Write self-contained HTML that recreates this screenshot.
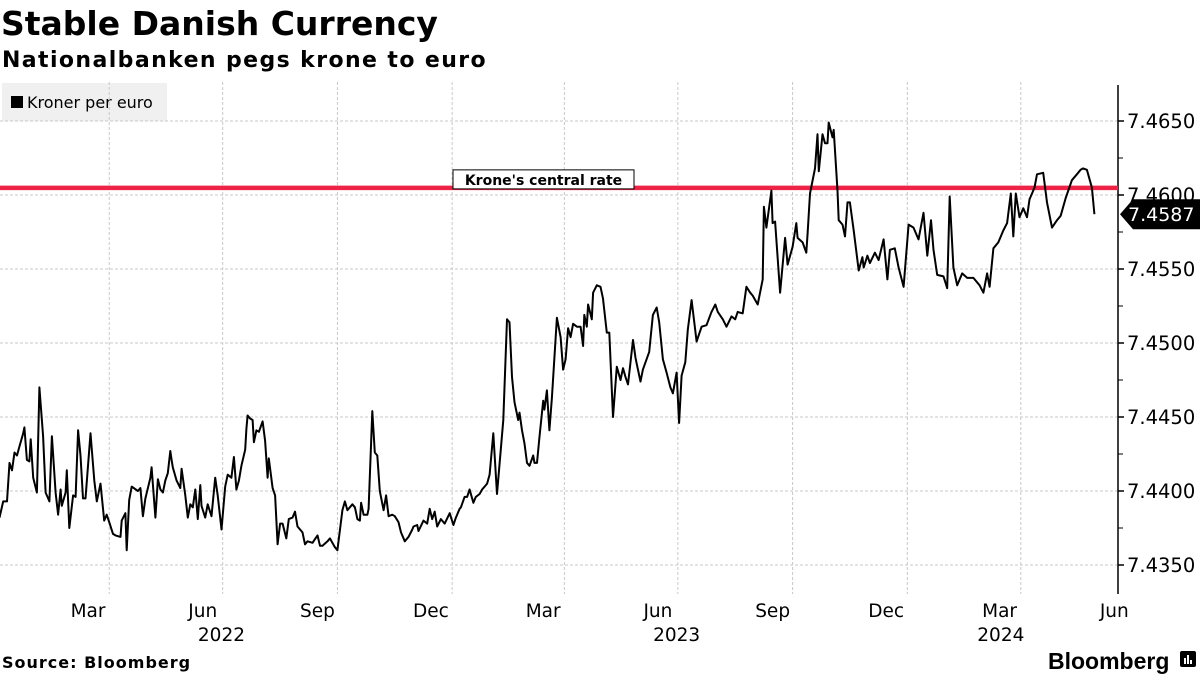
<!DOCTYPE html>
<html><head><meta charset="utf-8"><style>
body{margin:0;background:#fff;width:1200px;height:675px;overflow:hidden;font-family:"DejaVu Sans","Liberation Sans",sans-serif}
svg{display:block}
</style></head><body>
<svg id="chart" width="1200" height="675" viewBox="0 0 1200 675">
<text x="1" y="35" font-size="33" font-weight="bold" fill="#000">Stable Danish Currency</text>
<text x="2" y="67" font-size="22" font-weight="bold" letter-spacing="1.4" fill="#000">Nationalbanken pegs krone to euro</text>
<g>
<rect x="2" y="83" width="165" height="38" fill="#f0f0f0"/>
<rect x="11" y="96" width="12" height="12" fill="#000"/>
<text x="27" y="108" font-size="16" fill="#000">Kroner per euro</text>
</g>
<g id="grid"></g>
<g id="axes"></g>
<g id="series"></g>
<text x="2" y="668" font-size="16" font-weight="bold" letter-spacing="1" fill="#000">Source: Bloomberg</text>
<text x="1048" y="669" font-size="23" font-weight="bold" fill="#000" font-family="Liberation Sans, sans-serif">Bloomberg</text>
<g><rect x="1180" y="651" width="16" height="16" rx="2" fill="#000"/><rect x="1184" y="658" width="2" height="6" fill="#fff"/><rect x="1187" y="655" width="2" height="9" fill="#fff"/><rect x="1190" y="660" width="2" height="4" fill="#fff"/></g>
</svg>
<script>
const days=[2,5,8,10,12,14,16,18,21,22,24,26,27,29,32,34,37,39,42,44,47,49,51,52,55,56,58,61,63,65,67,69,71,75,78,80,83,86,88,90,93,95,99,100,103,104,106,108,113,115,117,119,123,124,127,129,131,133,135,137,139,140,141,144,147,148,151,153,155,157,159,161,163,164,167,169,172,175,177,180,183,185,188,190,192,194,196,199,200,201,203,205,206,208,210,213,215,217,218,221,223,225,227,229,232,234,237,239,241,245,247,249,253,257,259,261,265,267,271,273,277,279,281,285,287,289,291,292,294,297,298,301,303,305,307,310,312,314,317,319,322,324,327,330,333,334,337,338,342,345,347,349,351,353,356,359,363,366,368,371,372,375,377,379,382,384,387,389,391,393,395,398,401,406,409,411,413,415,418,419,421,423,425,427,430,431,433,435,438,439,441,443,445,449,452,454,456,458,460,462,465,468,470,471,473,474,477,478,481,484,486,489,491,494,497,500,502,504,506,510,512,513,516,518,523,526,529,531,534,537,540,542,545,547,549,552,554,557,561,565,569,573,576,578,582,585,589,592,594,598,601,604,606,610,614,615,617,621,622,624,628,632,634,638,641,642,646,649,650,652,656,658,659,662,664,666,667,670,671,674,675,678,680,682,684,687,691,694,695,698,700,704,707,711,714,716,720,723,727,731,735,739,743,746,749,751,754,759,762,764,767,770,774,778,783,788,791,794,796,799,803,807,810,813,815,817,820,823,826,828,832,834,839,842,846,850,853,857,862,866,869,871,874,876,878,880];
const rates=[7.4382,7.4393,7.4393,7.4419,7.4414,7.4426,7.4424,7.4430,7.4439,7.4443,7.4421,7.4420,7.4435,7.4409,7.4399,7.4470,7.4437,7.4399,7.4393,7.4437,7.4399,7.4384,7.4401,7.4390,7.4399,7.4414,7.4375,7.4397,7.4396,7.4441,7.4424,7.4395,7.4395,7.4439,7.4407,7.4393,7.4405,7.4380,7.4384,7.4379,7.4371,7.4370,7.4369,7.4380,7.4385,7.4360,7.4394,7.4403,7.4400,7.4402,7.4383,7.4395,7.4409,7.4416,7.4382,7.4408,7.4401,7.4399,7.4407,7.4412,7.4427,7.4421,7.4416,7.4407,7.4402,7.4415,7.4397,7.4382,7.4391,7.4389,7.4401,7.4381,7.4404,7.4390,7.4382,7.4391,7.4383,7.4409,7.4397,7.4374,7.4403,7.4411,7.4409,7.4423,7.4401,7.4407,7.4417,7.4428,7.4442,7.4451,7.4449,7.4448,7.4433,7.4441,7.4440,7.4447,7.4434,7.4409,7.4422,7.4402,7.4397,7.4364,7.4378,7.4378,7.4368,7.4381,7.4382,7.4386,7.4376,7.4372,7.4364,7.4366,7.4365,7.4370,7.4363,7.4363,7.4366,7.4368,7.4362,7.4360,7.4387,7.4393,7.4387,7.4391,7.4389,7.4381,7.4380,7.4392,7.4384,7.4384,7.4388,7.4454,7.4426,7.4424,7.4400,7.4387,7.4397,7.4383,7.4384,7.4383,7.4379,7.4372,7.4366,7.4369,7.4374,7.4376,7.4377,7.4373,7.4380,7.4378,7.4388,7.4381,7.4386,7.4376,7.4381,7.4378,7.4385,7.4377,7.4382,7.4388,7.4389,7.4396,7.4396,7.4401,7.4392,7.4396,7.4398,7.4401,7.4403,7.4405,7.4411,7.4439,7.4398,7.4448,7.4516,7.4514,7.4477,7.4460,7.4448,7.4453,7.4441,7.4432,7.4419,7.4417,7.4424,7.4419,7.4419,7.4436,7.4461,7.4455,7.4468,7.4441,7.4463,7.4517,7.4504,7.4482,7.4489,7.4510,7.4504,7.4513,7.4511,7.4511,7.4498,7.4519,7.4511,7.4526,7.4516,7.4534,7.4539,7.4538,7.4530,7.4507,7.4507,7.4450,7.4484,7.4475,7.4483,7.4477,7.4472,7.4502,7.4490,7.4486,7.4474,7.4482,7.4494,7.4519,7.4524,7.4514,7.4489,7.4480,7.4470,7.4466,7.4480,7.4446,7.4478,7.4487,7.4509,7.4529,7.4501,7.4511,7.4512,7.4521,7.4526,7.4521,7.4516,7.4511,7.4518,7.4516,7.4521,7.4520,7.4538,7.4534,7.4532,7.4526,7.4543,7.4592,7.4578,7.4603,7.4581,7.4582,7.4534,7.4571,7.4553,7.4565,7.4581,7.4571,7.4568,7.4561,7.4574,7.4601,7.4618,7.4641,7.4616,7.4641,7.4635,7.4635,7.4649,7.4639,7.4644,7.4603,7.4583,7.4580,7.4572,7.4595,7.4595,7.4576,7.4549,7.4558,7.4551,7.4559,7.4554,7.4561,7.4556,7.4570,7.4543,7.4563,7.4564,7.4551,7.4538,7.4580,7.4578,7.4570,7.4588,7.4559,7.4583,7.4563,7.4546,7.4545,7.4537,7.4599,7.4551,7.4539,7.4547,7.4544,7.4544,7.4539,7.4534,7.4547,7.4538,7.4564,7.4568,7.4576,7.4581,7.4601,7.4572,7.4601,7.4585,7.4591,7.4585,7.4597,7.4605,7.4614,7.4615,7.4595,7.4578,7.4583,7.4586,7.4598,7.4610,7.4614,7.4617,7.4618,7.4617,7.4611,7.4605,7.4587];
const yTicks=[7.4350,7.4400,7.4450,7.4500,7.4550,7.4600,7.4650];
const yTickLabels=["7.4350","7.4400","7.4450","7.4500","7.4550","7.4600","7.4650"];
const monthLabels=["Mar","Jun","Sep","Dec","Mar","Jun","Sep","Dec","Mar","Jun"];
const monthDays=[73,165,257,348,438,530,622,713,804,896];
const yearLabels=["2022","2023","2024"];
const yearDays=[180,545,805];
const gridDays=[90,181,273,365,455,546,638,730,821];
const centralRate=[7.46038];
const lastLabel=["7.4587"];

const NS="http://www.w3.org/2000/svg";
const X0=-3, PXD=1.247, AXIS_X=1118, TOP=82, BOT=594;
function xs(d){return X0+d*PXD;}
function ys(v){return 121+(7.4650-v)*14800;}
function mk(tag,attrs,parent){const e=document.createElementNS(NS,tag);for(const k in attrs)e.setAttribute(k,attrs[k]);parent.appendChild(e);return e;}
const grid=document.getElementById('grid'),axes=document.getElementById('axes'),series=document.getElementById('series');

yTicks.forEach((v,i)=>{
 const l=mk('line',{x1:0,x2:AXIS_X,y1:ys(v),y2:ys(v),stroke:'#c8c8c8','stroke-width':1,'stroke-dasharray':'3,2'},grid);
 
 
 const t=mk('line',{x1:AXIS_X,x2:AXIS_X+6,y1:ys(v),y2:ys(v),stroke:'#000','stroke-width':1.5},axes);
 
 
 const tx=mk('text',{x:AXIS_X+9,y:ys(v)+7,'font-size':19.5,fill:'#000'},axes);
 tx.textContent=yTickLabels[i];
 
 
 if(i<yTicks.length-1){
  const m=mk('line',{x1:AXIS_X,x2:AXIS_X+5,y1:ys(v+0.0025),y2:ys(v+0.0025),stroke:'#000','stroke-width':1},axes);
  
  
 }
});
gridDays.forEach(d=>{
 const l=mk('line',{x1:xs(d),x2:xs(d),y1:TOP,y2:BOT,stroke:'#c8c8c8','stroke-width':1,'stroke-dasharray':'3,2'},grid);
 
 
});
const ax=mk('line',{x1:AXIS_X,x2:AXIS_X,y1:85,y2:BOT,stroke:'#000','stroke-width':1.5},axes);


monthLabels.forEach((m,i)=>{
 const t=mk('text',{x:xs(monthDays[i]),y:617,'font-size':18.5,'text-anchor':'middle',fill:'#000'},axes);
 t.textContent=m;
 
 
});
yearLabels.forEach((y,i)=>{
 const t=mk('text',{x:xs(yearDays[i]),y:641,'font-size':18.5,'text-anchor':'middle',fill:'#000'},axes);
 t.textContent=y;
 
 
});
const cr=mk('line',{x1:0,x2:AXIS_X,y1:ys(centralRate[0])-1.5,y2:ys(centralRate[0])-1.5,stroke:'#ee2346','stroke-width':4.5},series);


const ab=mk('rect',{x:453,y:ys(centralRate[0])-19.5,width:181,height:19,fill:'#fff',stroke:'#000','stroke-width':1},series);


const at=mk('text',{x:543.5,y:ys(centralRate[0])-4.5,'font-size':14,'font-weight':'bold','text-anchor':'middle',fill:'#000'},series);
at.textContent="Krone's central rate";


let dstr='';
days.forEach((d,i)=>{dstr+=(i?'L':'M')+xs(d).toFixed(1)+','+ys(rates[i]).toFixed(1);});
const p=mk('path',{d:dstr,fill:'none',stroke:'#000','stroke-width':2,'stroke-linejoin':'round'},series);


const ly=ys(rates[rates.length-1]);
const tag=mk('path',{d:`M1120,${ly} L1133,${ly-15} L1200,${ly-15} L1200,${ly+15} L1133,${ly+15} Z`,fill:'#000'},series);


const lt=mk('text',{x:1128,y:ly+7,'font-size':19,fill:'#fff'},series);
lt.textContent=lastLabel[0];


</script>
</body></html>
